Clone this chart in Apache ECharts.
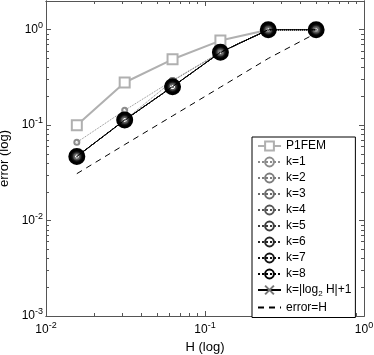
<!DOCTYPE html>
<html>
<head>
<meta charset="utf-8">
<script src="https://cdn.jsdelivr.net/npm/echarts@6/dist/echarts.min.js"></script>
<style>
  html, body { margin: 0; padding: 0; background: #fff; }
  #main { width: 374px; height: 355px; }
</style>
</head>
<body>
<div id="main"></div>
<script>
// mesh sizes H
const hValues = [0.015625, 0.03125, 0.0625, 0.125, 0.25, 0.5];
const p1fem = [0.10, 0.28, 0.49, 0.77, 1.0];
const k1 = [0.066, 0.143, 0.294, 0.58, 1.0, 1.0];
const k2 = [0.047, 0.113, 0.29, 0.58, 1.0, 1.0];
const kRest = [0.047, 0.113, 0.253, 0.58, 1.0, 1.0];
const kAdapt = [0.047, 0.113, 0.253, 0.58, 1.0, 1.0];
const errRef = [0.031, 0.0625, 0.125, 0.25, 0.5, 0.92];

const xMajor = [0.01, 0.1, 1];
const xMinor = [0.02, 0.03, 0.04, 0.05, 0.06, 0.07, 0.08, 0.09, 0.2, 0.3, 0.4, 0.5, 0.6, 0.7, 0.8, 0.9];
const yMajor = [0.001, 0.01, 0.1, 1];
const yMinor = [0.002, 0.003, 0.004, 0.005, 0.006, 0.007, 0.008, 0.009,
  0.02, 0.03, 0.04, 0.05, 0.06, 0.07, 0.08, 0.09,
  0.2, 0.3, 0.4, 0.5, 0.6, 0.7, 0.8, 0.9, 2];

const kColors = ['#8c8c8c', '#7d7d7d', '#6a6a6a', '#555555', '#3c3c3c', '#262626', '#121212', '#000000'];
const kSizes = [5, 6, 7, 8, 10, 11, 12, 14];

const pairs = (ys) => ys.map((y, i) => [hValues[i], y]);
const fontFam = '"Liberation Sans", Arial, sans-serif';
const axisColor = '#555';

const powLabel = (v) => '{b|10}{s|' + Math.round(Math.log10(v)) + '}';
const powRich = {
  b: { fontSize: 12, fontFamily: fontFam, color: '#000' },
  s: { fontSize: 9, fontFamily: fontFam, color: '#000', padding: [0, 0, 9, 0] }
};

function makeX(position, major, labels) {
  return {
    type: 'log', logBase: 10, min: 0.01, max: 1, position: position,
    axisLine: { show: true, onZero: false, lineStyle: { color: axisColor, width: 1 } },
    axisTick: { show: true, inside: true, length: major ? 5 : 3, customValues: major ? xMajor : xMinor,
      lineStyle: { color: axisColor } },
    axisLabel: labels ? { show: true, customValues: xMajor, formatter: powLabel, rich: powRich, margin: 5 } : { show: false },
    splitLine: { show: false },
    name: labels ? 'H (log)' : '', nameLocation: 'middle', nameGap: 25,
    nameTextStyle: { fontSize: 13, fontFamily: fontFam, color: '#000' }
  };
}
function makeY(position, major, labels) {
  return {
    type: 'log', logBase: 10, min: 0.001, max: 2, position: position,
    axisLine: { show: true, onZero: false, lineStyle: { color: axisColor, width: 1 } },
    axisTick: { show: true, inside: true, length: major ? 5 : 3, customValues: major ? yMajor : yMinor,
      lineStyle: { color: axisColor } },
    axisLabel: labels ? { show: true, customValues: yMajor, formatter: powLabel, rich: powRich, margin: 3 } : { show: false },
    splitLine: { show: false },
    name: labels ? 'error (log)' : '', nameLocation: 'middle', nameGap: 31, nameRotate: 90,
    nameTextStyle: { fontSize: 13, fontFamily: fontFam, color: '#000' }
  };
}

const series = [{
  name: 'P1FEM', type: 'line', data: pairs(p1fem),
  symbol: 'rect', symbolSize: 10,
  lineStyle: { color: '#b0b0b0', width: 2 },
  itemStyle: { color: '#fff', borderColor: '#b0b0b0', borderWidth: 2 },
  z: 2
}];
for (let k = 1; k <= 8; k++) {
  const ys = k === 1 ? k1 : (k === 2 ? k2 : kRest);
  series.push({
    name: 'k=' + k, type: 'line', data: pairs(ys),
    symbol: 'circle', symbolSize: kSizes[k - 1],
    lineStyle: { color: kColors[k - 1], width: 1, type: 'dotted' },
    itemStyle: { color: 'rgba(0,0,0,0)', borderColor: kColors[k - 1], borderWidth: k < 4 ? 2 : 3 },
    z: 3 + k
  });
}
series.push({
  name: 'k=|log2 H|+1', type: 'line', data: pairs(kAdapt),
  symbol: 'path://M0,0L10,10M10,0L0,10', symbolSize: 4,
  lineStyle: { color: '#000', width: 1 },
  itemStyle: { color: 'rgba(0,0,0,0)', borderColor: '#777', borderWidth: 1 },
  z: 20
});
series.push({
  name: 'error=H', type: 'line', data: pairs(errRef),
  symbol: 'none',
  lineStyle: { color: '#000', width: 1, type: [6, 5] },
  itemStyle: { color: 'rgba(0,0,0,0)', borderColor: 'rgba(0,0,0,0)' },
  z: 1
});

const chart = echarts.init(document.getElementById('main'));
chart.setOption({
  animation: false,
  backgroundColor: '#fff',
  textStyle: { fontFamily: fontFam },
  grid: { left: 46, right: 10, top: 1, bottom: 39, containLabel: false, outerBoundsMode: 'none' },
  xAxis: [makeX('bottom', true, true), makeX('bottom', false, false), makeX('top', true, false), makeX('top', false, false)],
  yAxis: [makeY('left', true, true), makeY('left', false, false), makeY('right', true, false), makeY('right', false, false)],
  legend: {
    orient: 'vertical', left: 252, top: 137,
    backgroundColor: '#fff', borderColor: '#000', borderWidth: 1,
    padding: [3, 4, 4, 5], itemGap: 4, itemWidth: 23, itemHeight: 11,
    selectedMode: false,
    textStyle: {
      fontSize: 12, fontFamily: fontFam, color: '#000',
      rich: {
        a: { fontSize: 12, fontFamily: fontFam, color: '#000' },
        s: { fontSize: 8, fontFamily: fontFam, color: '#000', padding: [7, 0, 0, 0] }
      }
    },
    formatter: (name) => name === 'k=|log2 H|+1' ? '{a|k=|log}{s|2}{a| H|+1}' : name,
    data: series.map(s => s.name)
  },
  series: series
});
</script>
</body>
</html>
